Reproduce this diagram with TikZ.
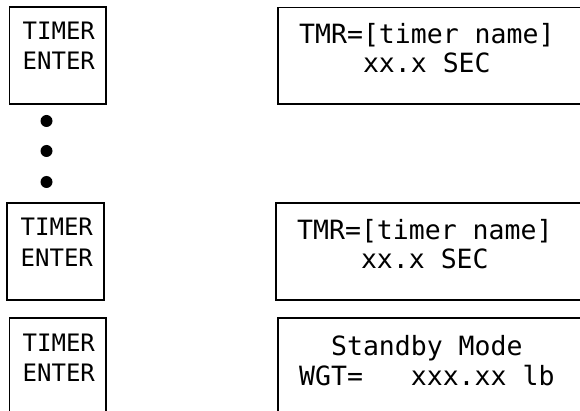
\documentclass[tikz,border=0pt]{standalone}
\usepackage{fontspec}
\setmonofont{DejaVu Sans Mono}
\begin{document}
\begin{tikzpicture}[x=1pt,y=-1pt,
  frame/.style={line width=1.4pt,black},
  keytext/.style={inner sep=0pt,anchor=base west,font=\ttfamily\fontsize{24}{30}\selectfont},
  lcdtext/.style={inner sep=0pt,anchor=base west,font=\ttfamily\fontsize{26.5}{30}\selectfont},
  dot/.style={circle,fill=black,inner sep=0pt,minimum size=12pt}]
\useasboundingbox (0,0) rectangle (580,411);
\begin{scope}
\clip (0,0) rectangle (580,411);
% left key boxes
\draw[frame] (9.5,7) rectangle (106,104);
\draw[frame] (7,203) rectangle (104,300);
\draw[frame] (9.5,420) -- (9.5,318) -- (106,318) -- (106,420);
% right display boxes (open to the right)
\draw[frame] (590,7.5) -- (278,7.5) -- (278,104) -- (590,104);
\draw[frame] (590,203) -- (276,203) -- (276,300) -- (590,300);
\draw[frame] (590,318) -- (278,318) -- (278,420);
\end{scope}
% key labels
\node[keytext] (k1a) at (22.5,40) {TIMER};
\node[keytext] (k1b) at (22.5,70) {ENTER};
\node[keytext] (k2a) at (20.5,236) {TIMER};
\node[keytext] (k2b) at (20.5,266) {ENTER};
\node[keytext] (k3a) at (22.5,351) {TIMER};
\node[keytext] (k3b) at (22.5,381) {ENTER};
% dots
\node[dot] (d1) at (46.5,121) {};
\node[dot] (d2) at (46.5,151) {};
\node[dot] (d3) at (46.5,182) {};
% display texts
\node[lcdtext] (t1a) at (299,44) {TMR=[timer name]};
\node[lcdtext] (t1b) at (299,73) {\phantom{xxxx}xx.x SEC};
\node[lcdtext] (t2a) at (297,240) {TMR=[timer name]};
\node[lcdtext] (t2b) at (297,269) {\phantom{xxxx}xx.x SEC};
\node[lcdtext] (t3a) at (299,355) {\phantom{xx}Standby Mode};
\node[lcdtext] (t3b) at (299,385) {WGT=\phantom{xxx}xxx.xx lb};
\end{tikzpicture}
\end{document}
